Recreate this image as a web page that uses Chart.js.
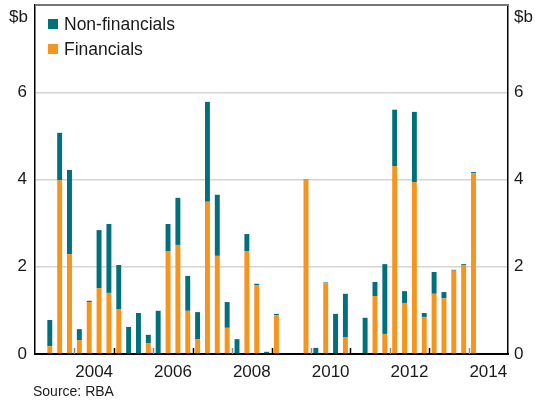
<!DOCTYPE html>
<html>
<head>
<meta charset="utf-8">
<script src="https://cdn.jsdelivr.net/npm/chart.js@4"></script>
<style>
  body { margin: 0; background: #fff; }
  #wrap { position: relative; width: 535px; height: 402px; font-family: "Liberation Sans", Arial, sans-serif; color: #1a1a1a; }
  canvas { position: absolute; left: 0; top: 0; }
  .txt { position: absolute; white-space: nowrap; }
  .key { position: absolute; width: 10px; height: 10px; }
</style>
</head>
<body>
<div id="wrap">
  <canvas id="chart" width="535" height="402"></canvas>
  <div class="txt" style="left:9px;top:7px;font-size:17px;">$b</div>
  <div class="txt" style="left:514px;top:7px;font-size:17px;">$b</div>
  <div class="key" style="left:48px;top:19px;background:#00717c;"></div>
  <div class="txt" style="left:64px;top:14px;font-size:17.5px;">Non-financials</div>
  <div class="key" style="left:48px;top:44px;background:#f7941d;"></div>
  <div class="txt" style="left:64px;top:39px;font-size:17.5px;">Financials</div>
  <div class="txt" style="left:33px;top:383px;font-size:14px;">Source: RBA</div>
</div>
<script>
// quarterly, 2003 Q1 to 2014 Q4
var years = [2003, 2004, 2005, 2006, 2007, 2008, 2009, 2010, 2011, 2012, 2013, 2014];
var quarters = ['Q1', 'Q2', 'Q3', 'Q4'];
var yearLabels = [2004, 2006, 2008, 2010, 2012, 2014];

// $b
var financials = [
  null, 0.18, 3.98, 2.29,
  0.32, 1.19, 1.51, 1.40,
  1.03, null, null, 0.25,
  null, 2.36, 2.50, 0.99,
  0.34, 3.49, 2.25, 0.60,
  null, 2.36, 1.58, null,
  0.89, null, null, 4.00,
  null, 1.62, null, 0.39,
  null, null, 1.33, 0.46,
  4.31, 1.17, 3.94, 0.85,
  1.38, 1.28, 1.91, 2.04,
  4.14, null, null, null
];
var nonFinancials = [
  null, 0.60, 1.09, 1.93,
  0.25, 0.03, 1.33, 1.58,
  1.01, 0.62, 0.94, 0.19,
  0.99, 0.62, 1.08, 0.80,
  0.62, 2.29, 1.40, 0.59,
  0.34, 0.39, 0.03, 0.05,
  0.03, null, null, 0.01,
  0.14, 0.02, 0.92, 0.99,
  null, 0.83, 0.32, 1.60,
  1.29, 0.27, 1.61, 0.09,
  0.50, 0.14, 0.02, 0.02,
  0.03, null, null, null
];

var labels = [];
years.forEach(function(y){
  quarters.forEach(function(q){ labels.push(y + ' ' + q); });
});

var TEAL = '#00717c';
var ORANGE = '#f7941d';

Chart.defaults.font.family = '"Liberation Sans", Arial, sans-serif';
Chart.defaults.font.size = 17;
Chart.defaults.color = '#1a1a1a';

// top frame + small tick marks at each year boundary, pointing up into the plot
var frame = {
  id: 'frame',
  afterDatasetsDraw: function(chart){
    var ctx = chart.ctx;
    var sc = chart.scales.yr;
    var area = chart.chartArea;
    ctx.save();
    ctx.strokeStyle = '#777';
    ctx.lineWidth = 2;
    ctx.beginPath();
    ctx.moveTo(area.left, area.top);
    ctx.lineTo(area.right, area.top);
    ctx.stroke();
    ctx.lineWidth = 1.5;
    for (var i = 1; i < years.length; i++){
      var x = Math.round(sc.getPixelForValue(i * 4)) + 0.5;
      ctx.strokeStyle = (years[i] % 2 === 0) ? '#8a8a8a' : '#000';
      ctx.beginPath();
      ctx.moveTo(x, area.bottom);
      ctx.lineTo(x, area.bottom - 6);
      ctx.stroke();
    }
    ctx.restore();
  }
};

function noPad(axis){
  axis.paddingTop = 0;
  axis.paddingBottom = 0;
  axis.paddingLeft = 0;
  axis.paddingRight = 0;
}

new Chart(document.getElementById('chart'), {
  type: 'bar',
  data: {
    labels: labels,
    datasets: [
      { label: 'Financials', data: financials, backgroundColor: ORANGE },
      { label: 'Non-financials', data: nonFinancials, backgroundColor: TEAL }
    ]
  },
  options: {
    responsive: false,
    animation: false,
    layout: { padding: { top: 5, left: 0, right: 0, bottom: 0 } },
    datasets: { bar: { barPercentage: 0.5, categoryPercentage: 1.0 } },
    plugins: { legend: { display: false }, tooltip: { enabled: false } },
    scales: {
      x: { stacked: true, display: false },
      yr: {
        type: 'linear', position: 'bottom', min: 0, max: years.length * 4,
        offset: false, bounds: 'data',
        grid: { display: false, drawTicks: false, offset: false },
        border: { display: true, color: '#000', width: 2 },
        afterBuildTicks: function(axis){
          axis.ticks = yearLabels.map(function(y){ return { value: (y - years[0]) * 4 + 2 }; });
        },
        ticks: {
          padding: 8, maxRotation: 0, autoSkip: false,
          callback: function(v){ return String(years[0] + (v - 2) / 4); }
        },
        afterFit: function(axis){ axis.height = 48; noPad(axis); }
      },
      y: {
        stacked: true, position: 'left', min: 0, max: 8,
        grid: {
          drawTicks: false,
          color: function(c){ return c.tick.value === 0 ? 'rgba(0,0,0,0)' : '#d4d4d4'; },
          lineWidth: 1.5
        },
        border: { color: '#000', width: 1.5 },
        ticks: { stepSize: 2, padding: 8, callback: function(v){ return v === 8 ? null : v; } },
        afterFit: function(axis){ axis.width = 35; noPad(axis); }
      },
      y2: {
        position: 'right', min: 0, max: 8,
        grid: { display: false, drawTicks: false },
        border: { color: '#000', width: 1.5 },
        ticks: { stepSize: 2, padding: 6, callback: function(v){ return v === 8 ? null : v; } },
        afterFit: function(axis){ axis.width = 27; noPad(axis); }
      }
    }
  },
  plugins: [frame]
});
</script>
</body>
</html>
